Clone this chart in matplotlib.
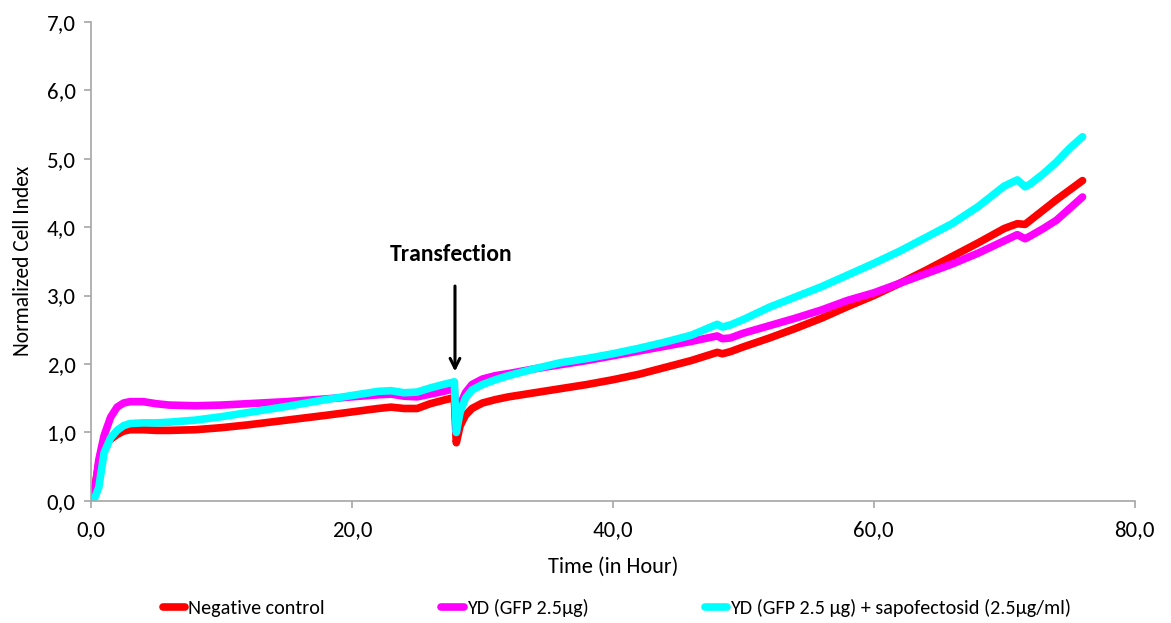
import matplotlib
matplotlib.use("Agg")
import matplotlib.pyplot as plt
from matplotlib.ticker import FuncFormatter, MultipleLocator

plt.rcParams['font.family'] = ['Carlito', 'Lato', 'DejaVu Sans']

# sampling times (hours)
hours = [0, 0.3, 0.6, 1, 1.5, 2, 2.5, 3, 4, 5, 6, 8, 10, 12, 15, 18, 20, 22, 23,
         24, 25, 26, 27, 27.85, 28.0, 28.3, 28.7, 29.2, 30, 31, 32, 34, 36, 38,
         40, 42, 44, 46, 48, 48.4, 49, 50, 52, 54, 56, 58, 60, 62, 64, 66, 68,
         70, 71, 71.6, 72, 73, 74, 75, 76]

neg_control = [0.05, 0.2, 0.55, 0.8, 0.9, 0.97, 1.02, 1.04, 1.04, 1.03, 1.03, 1.04,
               1.07, 1.11, 1.18, 1.25, 1.3, 1.35, 1.37, 1.35, 1.35, 1.42, 1.47,
               1.51, 0.85, 1.1, 1.25, 1.35, 1.43, 1.48, 1.52, 1.58, 1.64, 1.7,
               1.77, 1.85, 1.95, 2.05, 2.17, 2.15, 2.18, 2.25, 2.38, 2.52, 2.67,
               2.84, 3.0, 3.18, 3.37, 3.57, 3.77, 3.98, 4.05, 4.04, 4.1, 4.25,
               4.4, 4.54, 4.68]

yd_gfp = [0.0, 0.15, 0.6, 0.95, 1.22, 1.37, 1.43, 1.45, 1.45, 1.42, 1.4, 1.39,
          1.4, 1.42, 1.45, 1.49, 1.52, 1.55, 1.56, 1.53, 1.52, 1.56, 1.6, 1.64,
          1.0, 1.4, 1.58, 1.7, 1.78, 1.83, 1.86, 1.93, 1.99, 2.05, 2.12, 2.19,
          2.26, 2.33, 2.41, 2.37, 2.38, 2.45, 2.56, 2.67, 2.79, 2.93, 3.04, 3.18,
          3.32, 3.46, 3.62, 3.8, 3.89, 3.83, 3.87, 3.98, 4.1, 4.27, 4.44]

yd_gfp_sapo = [0.0, 0.05, 0.2, 0.7, 0.92, 1.03, 1.1, 1.13, 1.14, 1.14, 1.15, 1.18,
               1.23, 1.29, 1.38, 1.48, 1.54, 1.6, 1.61, 1.58, 1.59, 1.65, 1.7,
               1.74, 1.0, 1.3, 1.5, 1.62, 1.7, 1.77, 1.83, 1.93, 2.02, 2.08, 2.15,
               2.23, 2.32, 2.42, 2.58, 2.54, 2.57, 2.65, 2.83, 2.98, 3.13, 3.3,
               3.47, 3.65, 3.85, 4.05, 4.3, 4.6, 4.69, 4.59, 4.63, 4.78, 4.95,
               5.15, 5.32]

labels = ["Negative control", "YD (GFP 2.5µg)",
          "YD (GFP 2.5 µg) + sapofectosid (2.5µg/ml)"]
colors = ["#FF0000", "#FF00FF", "#00FFFF"]

fig = plt.figure(figsize=(11.71, 6.23), dpi=100)
ax = fig.add_axes([0.0777, 0.196, 0.8913, 0.769])

for series, lab, col in zip([neg_control, yd_gfp, yd_gfp_sapo], labels, colors):
    ax.plot(hours, series, color=col, lw=5.5, label=lab,
            solid_capstyle='round', solid_joinstyle='round')

ax.set_xlim(0, 80)
ax.set_ylim(0, 7)
ax.xaxis.set_major_locator(MultipleLocator(20))
ax.yaxis.set_major_locator(MultipleLocator(1))
comma = FuncFormatter(lambda v, p: f"{v:.1f}".replace(".", ","))
ax.xaxis.set_major_formatter(comma)
ax.yaxis.set_major_formatter(comma)

for side in ("top", "right"):
    ax.spines[side].set_visible(False)
for side in ("left", "bottom"):
    ax.spines[side].set_color("#A6A6A6")
    ax.spines[side].set_linewidth(1.2)
ax.tick_params(colors="#A6A6A6", labelcolor="black", length=5, width=1.2,
               labelsize=16.5, direction="out")
ax.tick_params(axis="x", pad=9)
ax.tick_params(axis="y", pad=6)

ax.set_xlabel("Time (in Hour)", fontsize=16, labelpad=12)
ax.set_ylabel("Normalized Cell Index", fontsize=15.5, labelpad=10)

# transfection marker
ax.annotate("", xy=(27.9, 1.85), xytext=(27.9, 3.18),
            arrowprops=dict(arrowstyle="->,head_length=0.7,head_width=0.35",
                            color="black", lw=2.2))
ax.text(27.6, 3.6, "Transfection", ha="center", va="center",
        fontsize=17, fontweight="bold")

fig.legend(loc="center", bbox_to_anchor=(0.527, 1 - 608 / 623), ncol=3,
           frameon=False, fontsize=14.5, handlelength=1.1, handletextpad=0.15,
           columnspacing=5.8)

fig.savefig("out.png", dpi=100)
